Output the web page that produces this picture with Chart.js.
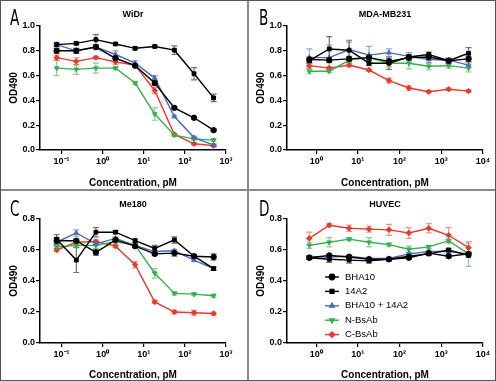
<!DOCTYPE html>
<html>
<head>
<meta charset="utf-8">
<script src="https://cdn.jsdelivr.net/npm/chart.js@4.4.0/dist/chart.umd.min.js"></script>
<style>
  html, body { margin: 0; padding: 0; background: #fff; }
  #fig { position: relative; width: 496px; height: 381px; overflow: hidden; }
  #fig canvas { position: absolute; }
  #cA { left: 0; top: 0; }
  #cB { left: 249px; top: 0; }
  #cC { left: 0; top: 191px; }
  #cD { left: 249px; top: 191px; }
  .frame { position: absolute; left: 0; top: 0; width: 496px; height: 381px; box-sizing: border-box; border: 1px solid #555; pointer-events: none; }
  .vline { position: absolute; left: 247px; top: 0; width: 2px; height: 381px; background: #8a8a8a; }
  .hline { position: absolute; left: 0; top: 189px; width: 496px; height: 2px; background: #8a8a8a; }
</style>
</head>
<body>
<div id="fig">
  <canvas id="cA" width="247" height="189"></canvas>
  <canvas id="cB" width="247" height="189"></canvas>
  <canvas id="cC" width="247" height="190"></canvas>
  <canvas id="cD" width="247" height="190"></canvas>
  <div class="vline"></div>
  <div class="hline"></div>
  <div class="frame"></div>
</div>
<script>
// concentrations (pM), 3-fold dilutions
const concAC = [0.0762, 0.229, 0.686, 2.06, 6.17, 18.5, 55.6, 167, 500];
const concBD = [0.686, 2.06, 6.17, 18.5, 55.6, 167, 500, 1500, 4500];

const seriesNames = ['BHA10', '14A2', 'BHA10 + 14A2', 'N-BsAb', 'C-BsAb'];

// A: WiDr
const widrBha10 = [0.80, 0.80, 0.83, 0.74, 0.68, 0.54, 0.34, 0.26, 0.16];
const widrBha10Err = [0.02, 0.02, 0.01, 0.01, 0.01, 0.02, 0.01, 0.01, 0.01];
const widr14a2 = [0.85, 0.86, 0.89, 0.855, 0.82, 0.835, 0.805, 0.615, 0.42];
const widr14a2Err = [0.01, 0.01, 0.04, 0.01, 0.01, 0.01, 0.035, 0.05, 0.03];
const widrCombo = [0.85, 0.80, 0.83, 0.77, 0.70, 0.58, 0.27, 0.10, 0.04];
const widrComboErr = [0.02, 0.02, 0.02, 0.03, 0.02, 0.02, 0.01, 0.01, 0.01];
const widrN = [0.66, 0.65, 0.66, 0.66, 0.54, 0.29, 0.12, 0.09, 0.08];
const widrNErr = [0.06, 0.04, 0.04, 0.01, 0.01, 0.05, 0.01, 0.01, 0.01];
const widrC = [0.745, 0.715, 0.745, 0.71, 0.685, 0.48, 0.125, 0.05, 0.035];
const widrCErr = [0.02, 0.03, 0.01, 0.02, 0.01, 0.025, 0.01, 0.01, 0.01];

// B: MDA-MB231
const mdaBha10 = [0.73, 0.725, 0.735, 0.745, 0.715, 0.745, 0.75, 0.72, 0.735];
const mdaBha10Err = [0.02, 0.02, 0.02, 0.02, 0.02, 0.02, 0.02, 0.02, 0.02];
const mda14a2 = [0.72, 0.815, 0.805, 0.70, 0.70, 0.75, 0.77, 0.72, 0.78];
const mda14a2Err = [0.02, 0.1, 0.08, 0.02, 0.05, 0.02, 0.02, 0.02, 0.045];
const mdaCombo = [0.745, 0.745, 0.81, 0.765, 0.785, 0.755, 0.73, 0.725, 0.685];
const mdaComboErr = [0.07, 0.1, 0.06, 0.07, 0.03, 0.03, 0.03, 0.01, 0.02];
const mdaN = [0.635, 0.635, 0.725, 0.745, 0.70, 0.70, 0.675, 0.68, 0.66];
const mdaNErr = [0.02, 0.01, 0.02, 0.02, 0.03, 0.045, 0.03, 0.02, 0.03];
const mdaC = [0.68, 0.66, 0.685, 0.645, 0.56, 0.50, 0.47, 0.49, 0.475];
const mdaCErr = [0.02, 0.015, 0.015, 0.01, 0.02, 0.02, 0.01, 0.01, 0.01];

// C: Me180
const meBha10 = [0.66, 0.66, 0.585, 0.665, 0.625, 0.575, 0.58, 0.56, 0.555];
const meBha10Err = [0.02, 0.01, 0.02, 0.01, 0.01, 0.01, 0.02, 0.01, 0.02];
const me14a2 = [0.67, 0.535, 0.715, 0.715, 0.66, 0.61, 0.665, 0.56, 0.48];
const me14a2Err = [0.03, 0.08, 0.03, 0.01, 0.01, 0.02, 0.02, 0.01, 0.01];
const meCombo = [0.65, 0.71, 0.64, 0.675, 0.63, 0.59, 0.595, 0.535, 0.48];
const meComboErr = [0.02, 0.02, 0.01, 0.01, 0.01, 0.01, 0.01, 0.01, 0.01];
const meN = [0.62, 0.63, 0.63, 0.655, 0.63, 0.45, 0.32, 0.315, 0.305];
const meNErr = [0.01, 0.01, 0.02, 0.01, 0.01, 0.03, 0.01, 0.01, 0.01];
const meC = [0.60, 0.65, 0.655, 0.625, 0.505, 0.265, 0.20, 0.195, 0.19];
const meCErr = [0.01, 0.01, 0.01, 0.01, 0.02, 0.01, 0.01, 0.015, 0.01];

// D: HUVEC
const huvBha10 = [0.55, 0.565, 0.555, 0.54, 0.54, 0.55, 0.58, 0.56, 0.575];
const huvBha10Err = [0.01, 0.01, 0.01, 0.01, 0.01, 0.01, 0.01, 0.01, 0.01];
const huv14a2 = [0.55, 0.54, 0.535, 0.53, 0.54, 0.56, 0.575, 0.60, 0.565];
const huv14a2Err = [0.01, 0.02, 0.02, 0.015, 0.01, 0.01, 0.01, 0.01, 0.01];
const huvCombo = [0.555, 0.555, 0.56, 0.545, 0.545, 0.575, 0.59, 0.59, 0.575];
const huvComboErr = [0.01, 0.01, 0.01, 0.01, 0.01, 0.01, 0.01, 0.01, 0.01];
const huvN = [0.63, 0.65, 0.67, 0.65, 0.635, 0.605, 0.62, 0.66, 0.575];
const huvNErr = [0.02, 0.03, 0.01, 0.03, 0.01, 0.02, 0.01, 0.01, 0.08];
const huvC = [0.675, 0.76, 0.74, 0.735, 0.73, 0.71, 0.74, 0.695, 0.615];
const huvCErr = [0.04, 0.01, 0.02, 0.02, 0.035, 0.035, 0.03, 0.05, 0.03];

// styling per series
const lineColors = ['#000000', '#000000', '#4a6cb8', '#35b04a', '#e63a2c'];
const errColors = ['rgba(0,0,0,0.55)', 'rgba(0,0,0,0.55)', 'rgba(74,108,184,0.6)', 'rgba(53,176,74,0.6)', 'rgba(230,58,44,0.55)'];
const markers = ['circle', 'rect', 'triangle', 'triangle', 'rectRot'];
const markerRot = [0, 0, 0, 180, 0];

Chart.defaults.color = '#000';
Chart.defaults.font.family = '"Liberation Sans", Arial, sans-serif';

const supers = { '-1': '⁻¹', '0': '⁰', '1': '¹', '2': '²', '3': '³', '4': '⁴' };

function makeDatasets(conc, vals, errs) {
  return vals.map((v, i) => ({
    label: seriesNames[i],
    data: conc.map((c, k) => ({ x: c, y: v[k] })),
    errors: errs[i],
    errorColor: errColors[i],
    borderColor: lineColors[i],
    backgroundColor: lineColors[i],
    borderWidth: 1.4,
    pointStyle: markers[i],
    pointRotation: markerRot[i],
    pointRadius: 2.7,
    pointBorderWidth: 1,
    tension: 0
  }));
}

// vertical error bars with caps, drawn under the lines
const errorBars = {
  id: 'errorBars',
  beforeDatasetsDraw(chart) {
    const ctx = chart.ctx;
    const ys = chart.scales.y;
    chart.data.datasets.forEach((ds, i) => {
      const meta = chart.getDatasetMeta(i);
      ctx.save();
      ctx.strokeStyle = ds.errorColor;
      ctx.lineWidth = 1.2;
      meta.data.forEach((pt, k) => {
        const e = ds.errors[k];
        const v = ds.data[k].y;
        const y1 = ys.getPixelForValue(v + e);
        const y2 = ys.getPixelForValue(v - e);
        ctx.beginPath();
        ctx.moveTo(pt.x, y1); ctx.lineTo(pt.x, y2);
        ctx.moveTo(pt.x - 3, y1); ctx.lineTo(pt.x + 3, y1);
        ctx.moveTo(pt.x - 3, y2); ctx.lineTo(pt.x + 3, y2);
        ctx.stroke();
      });
      ctx.restore();
    });
  }
};

// panel letter in the corner
const panelLetter = {
  id: 'panelLetter',
  afterDraw(chart, args, opts) {
    const ctx = chart.ctx;
    ctx.save();
    ctx.fillStyle = '#000';
    ctx.font = '21px "Liberation Sans Narrow", "DejaVu Sans Condensed", sans-serif';
    ctx.textBaseline = 'top';
    ctx.translate(opts.x, opts.y);
    ctx.scale(0.72, 1);
    ctx.fillText(opts.text, 0, 0);
    ctx.restore();
  }
};

// legend with line + marker, inside the plot
const lineLegend = {
  id: 'lineLegend',
  afterDatasetsDraw(chart, args, opts) {
    if (!opts.show) return;
    const ctx = chart.ctx;
    const { left, top } = chart.chartArea;
    chart.data.datasets.forEach((ds, i) => {
      const y = top + opts.top + i * opts.spacing;
      const x0 = left + opts.left;
      ctx.save();
      ctx.strokeStyle = ds.borderColor;
      ctx.fillStyle = ds.borderColor;
      ctx.lineWidth = 1.4;
      ctx.beginPath();
      ctx.moveTo(x0, y); ctx.lineTo(x0 + 14, y);
      ctx.stroke();
      Chart.helpers.drawPoint(ctx, { pointStyle: ds.pointStyle, rotation: ds.pointRotation, radius: 2.7, borderWidth: 1 }, x0 + 7, y);
      ctx.fillStyle = '#000';
      ctx.font = '9.5px "Liberation Sans", Arial, sans-serif';
      ctx.textBaseline = 'middle';
      ctx.fillText(ds.label, x0 + 20, y);
      ctx.restore();
    });
  }
};

function makePanel(id, letter, title, conc, vals, errs, opt) {
  new Chart(document.getElementById(id), {
    type: 'line',
    data: { datasets: makeDatasets(conc, vals, errs) },
    plugins: [errorBars, panelLetter, lineLegend],
    options: {
      responsive: false,
      animation: false,
      devicePixelRatio: 1,
      layout: { padding: { left: 0, right: opt.padRight, top: 0, bottom: 0 } },
      plugins: {
        legend: { display: false },
        tooltip: { enabled: false },
        title: {
          display: true, text: title, fullSize: false,
          font: { size: 9, weight: 'bold' },
          padding: { top: opt.titleTop, bottom: opt.titleBottom }
        },
        panelLetter: { text: letter, x: 10, y: 9 },
        lineLegend: { show: !!opt.legend, left: 38, top: 58, spacing: 14.4 }
      },
      scales: {
        x: {
          type: 'logarithmic',
          min: opt.xMin, max: opt.xMax,
          afterBuildTicks: s => { s.ticks = opt.decades.map(d => ({ value: Math.pow(10, d) })); },
          afterFit: s => { s.height = opt.xHeight; },
          ticks: {
            font: { size: 9, weight: 'bold' }, padding: 2, maxRotation: 0, autoSkip: false,
            callback: v => '10' + supers[String(Math.round(Math.log10(v)))]
          },
          grid: { drawOnChartArea: false, drawTicks: true, tickLength: 4, color: '#000', lineWidth: 1.2 },
          border: { color: '#000', width: 1.5 },
          title: { display: true, text: 'Concentration, pM', font: { size: 10, weight: 'bold' }, padding: { top: opt.xTitlePad, bottom: 0 } }
        },
        y: {
          min: 0, max: opt.yMax,
          afterFit: s => { s.width = opt.yWidth; },
          ticks: { stepSize: 0.2, font: { size: 9, weight: 'bold' }, padding: 1, callback: v => v.toFixed(1) },
          grid: { drawOnChartArea: false, drawTicks: true, tickLength: 4, color: '#000', lineWidth: 1.2 },
          border: { color: '#000', width: 1.5 },
          title: { display: true, text: 'OD490', font: { size: 10, weight: 'bold' }, padding: { top: opt.yTitlePad, bottom: 0 } }
        }
      }
    }
  });
}

makePanel('cA', 'A', 'WiDr', concAC,
  [widrBha10, widr14a2, widrCombo, widrN, widrC],
  [widrBha10Err, widr14a2Err, widrComboErr, widrNErr, widrCErr],
  { xMin: 0.03, xMax: 1000, decades: [-1, 0, 1, 2, 3], yMax: 1.0, padRight: 21, yWidth: 40, xHeight: 39,
    titleTop: 9.5, titleBottom: 5.7, xTitlePad: 9, yTitlePad: 8 });

makePanel('cB', 'B', 'MDA-MB231', concBD,
  [mdaBha10, mda14a2, mdaCombo, mdaN, mdaC],
  [mdaBha10Err, mda14a2Err, mdaComboErr, mdaNErr, mdaCErr],
  { xMin: 0.2, xMax: 10000, decades: [0, 1, 2, 3, 4], yMax: 1.0, padRight: 13, yWidth: 38, xHeight: 39,
    titleTop: 9.5, titleBottom: 5.7, xTitlePad: 9, yTitlePad: 6 });

makePanel('cC', 'C', 'Me180', concAC,
  [meBha10, me14a2, meCombo, meN, meC],
  [meBha10Err, me14a2Err, meComboErr, meNErr, meCErr],
  { xMin: 0.03, xMax: 1000, decades: [-1, 0, 1, 2, 3], yMax: 0.8, padRight: 21, yWidth: 40, xHeight: 38,
    titleTop: 8, titleBottom: 9.2, xTitlePad: 7.3, yTitlePad: 8 });

makePanel('cD', 'D', 'HUVEC', concBD,
  [huvBha10, huv14a2, huvCombo, huvN, huvC],
  [huvBha10Err, huv14a2Err, huvComboErr, huvNErr, huvCErr],
  { xMin: 0.2, xMax: 10000, decades: [0, 1, 2, 3, 4], yMax: 0.8, padRight: 13, yWidth: 38, xHeight: 38,
    titleTop: 8, titleBottom: 9.2, xTitlePad: 7.3, yTitlePad: 6, legend: true });
</script>
</body>
</html>
